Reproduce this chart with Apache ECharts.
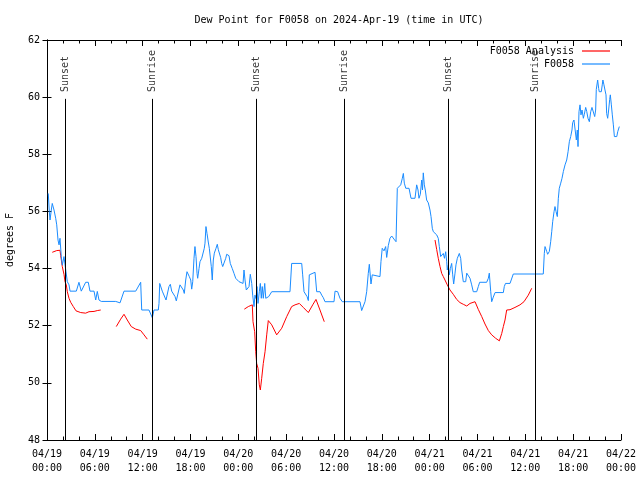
<!DOCTYPE html>
<html>
<head>
<meta charset="utf-8">
<script src="https://cdn.jsdelivr.net/npm/echarts@6/dist/echarts.min.js"></script>
<style>html,body{margin:0;padding:0;background:#fff}#c{width:640px;height:480px}</style>
</head>
<body>
<div id="c"></div>
<script>
// Hours since 2024-04-19 00:00 UTC
const xTickDates = ['04/19','04/19','04/19','04/19','04/20','04/20','04/20','04/20','04/21','04/21','04/21','04/21','04/22'];
const xTickTimes = ['00:00','06:00','12:00','18:00','00:00','06:00','12:00','18:00','00:00','06:00','12:00','18:00','00:00'];

const sunTimes = [2.30, 13.21, 26.26, 37.30, 50.34, 61.25];
const sunLabels = ['Sunset','Sunrise','Sunset','Sunrise','Sunset','Sunrise'];

const obsHours = [0.16,0.29,0.38,0.54,0.66,0.88,1.09,1.22,1.38,1.51,1.63,1.79,1.92,2.13,2.26,2.38,2.55,2.76,2.89,3.68,4.01,4.30,4.55,4.85,5.18,5.39,5.90,6.11,6.31,6.52,6.81,8.62,8.85,9.16,9.66,11.13,11.75,11.88,12.79,13.21,13.42,13.96,14.05,14.14,14.30,14.46,14.71,14.93,15.14,15.30,15.47,15.64,16.06,16.22,16.47,16.68,17.10,17.22,17.40,17.56,17.73,17.85,18.03,18.15,18.28,18.44,18.56,18.69,18.82,18.90,19.07,19.19,19.41,19.61,19.73,19.82,19.94,20.07,20.23,20.36,20.48,20.61,20.73,20.86,20.99,21.20,21.36,21.49,21.79,21.91,22.04,22.24,22.42,22.54,22.83,22.99,23.24,23.46,23.67,23.87,24.09,24.59,24.71,24.84,25.00,25.15,25.34,25.50,25.68,25.80,25.97,26.09,26.22,26.34,26.47,26.63,26.76,26.88,27.00,27.13,27.31,27.44,27.60,27.81,28.19,30.48,30.69,31.95,32.07,32.24,32.43,32.62,32.78,32.90,33.08,33.62,33.83,34.24,34.46,34.66,34.87,36.00,36.13,36.46,36.75,37.04,39.26,39.47,39.67,39.89,40.10,40.30,40.43,40.64,40.80,41.05,41.77,41.89,42.05,42.27,42.48,42.61,42.81,43.02,43.24,43.53,43.78,43.94,44.07,44.37,44.57,44.70,44.82,45.00,45.41,45.66,46.16,46.37,46.54,46.66,46.83,47.00,47.10,47.20,47.33,47.45,47.62,47.83,48.04,48.17,48.33,48.46,48.67,48.88,49.08,49.21,49.38,49.55,49.71,49.86,50.01,50.14,50.21,50.34,50.46,50.59,50.76,50.89,51.01,51.18,51.30,51.47,51.59,51.72,51.89,52.02,52.22,52.52,52.65,52.85,53.06,53.27,53.47,53.90,54.10,54.27,55.15,55.36,55.48,55.66,55.78,55.98,56.20,57.24,57.36,57.51,58.08,58.49,62.25,62.38,62.47,62.68,62.80,63.01,63.18,63.31,63.43,63.60,63.72,63.85,64.01,64.14,64.26,64.44,64.60,64.77,64.98,65.19,65.36,65.52,65.69,65.85,65.94,66.10,66.27,66.40,66.52,66.61,66.73,66.86,66.98,67.11,67.28,67.40,67.57,67.70,67.86,68.03,68.20,68.36,68.57,68.70,68.82,68.90,69.07,69.20,69.27,69.53,69.65,69.73,69.86,69.99,70.12,70.20,70.33,70.45,70.58,70.66,70.79,70.91,71.04,71.17,71.34,71.47,71.59,71.72,71.79];
const obsDew = [56.63,55.99,55.70,56.05,56.28,56.05,55.76,55.53,55.00,54.83,55.06,54.42,54.12,54.42,54.35,53.89,53.54,53.43,53.21,53.21,53.52,53.21,53.21,53.52,53.52,53.21,53.21,52.90,53.20,52.90,52.85,52.85,52.80,52.80,53.21,53.21,53.52,52.55,52.55,52.28,52.55,52.55,52.78,53.48,53.54,53.21,53.21,52.90,52.90,53.37,53.45,53.21,53.02,52.87,52.87,53.43,53.25,53.13,53.60,53.89,53.95,53.72,53.60,53.28,53.54,54.36,54.77,54.42,53.83,53.66,54.00,54.24,54.36,54.36,54.71,54.89,55.47,55.23,54.93,54.71,54.71,54.07,53.60,54.30,54.54,54.71,54.85,54.66,54.38,54.18,54.07,54.07,54.36,54.50,54.45,54.18,54.00,53.83,53.66,53.60,53.54,53.48,53.95,53.60,53.25,53.20,53.37,53.80,53.48,53.07,52.67,53.07,52.95,53.37,52.78,53.19,53.48,52.96,53.37,52.96,53.48,52.96,52.98,53.02,53.19,53.19,54.18,54.18,53.78,53.19,53.15,53.02,52.88,53.78,53.84,53.87,53.19,53.19,53.07,52.98,52.84,52.84,53.21,53.19,52.96,52.84,52.84,52.53,52.53,52.84,53.19,53.83,54.15,53.46,53.78,53.72,53.72,54.24,54.71,54.62,54.77,54.39,54.80,55.06,55.14,55.03,54.94,56.81,56.81,56.93,57.16,57.33,56.99,56.81,56.81,56.46,56.46,56.93,56.75,56.46,56.60,57.10,56.75,57.35,56.93,56.75,56.40,56.30,56.05,55.82,55.41,55.29,55.29,55.18,55.06,54.77,54.42,54.36,54.53,54.36,54.59,54.24,53.95,54.12,53.78,54.00,54.18,53.78,53.46,53.84,54.13,54.36,54.42,54.53,54.36,53.95,53.54,53.54,53.84,53.84,53.66,53.43,53.19,53.19,53.37,53.52,53.52,53.66,53.84,53.19,52.84,53.00,53.16,53.16,53.37,53.48,53.48,53.81,53.81,54.53,54.77,54.60,54.50,54.60,54.94,55.29,55.64,55.99,56.17,56.00,55.82,56.46,56.81,56.99,57.16,57.40,57.63,57.80,58.09,58.44,58.62,58.85,59.11,59.20,59.20,58.50,58.85,58.27,59.49,59.73,59.38,59.55,59.26,59.40,59.64,59.50,59.26,59.14,59.49,59.64,59.64,59.32,59.55,60.27,60.60,60.30,60.19,60.19,60.43,60.60,60.43,60.25,60.08,59.43,59.26,59.55,59.92,60.08,59.73,59.38,59.03,58.62,58.56,58.62,58.79,58.79,58.97];

// null marks a gap in the analysis line
const anaHours = [0.66,1.22,1.63,1.72,1.92,2.13,2.26,2.42,2.55,2.76,2.97,3.30,3.64,4.23,4.85,5.27,5.90,6.31,6.74,7.70,8.69,9.24,9.66,10.07,10.57,11.13,11.75,12.17,12.58,18.00,24.75,25.25,25.75,25.84,26.05,26.18,26.30,26.47,26.63,26.76,26.93,27.13,27.35,27.56,27.76,28.19,28.81,29.44,30.07,30.69,31.11,31.65,32.15,32.78,33.33,33.74,34.24,34.78,40.00,48.67,48.88,49.08,49.30,49.51,49.71,49.92,50.21,50.55,50.96,51.39,51.80,52.22,52.65,53.06,53.69,54.10,54.53,54.94,55.36,55.78,56.28,56.74,57.04,57.24,57.45,57.66,58.08,58.70,59.33,59.83,60.37,60.80];
const anaDew = [54.57,54.63,54.64,54.45,54.07,53.80,53.54,53.43,53.19,52.96,52.82,52.67,52.52,52.46,52.44,52.49,52.50,52.53,52.55,null,51.97,52.23,52.40,52.20,51.97,51.88,51.83,51.68,51.53,null,52.58,52.67,52.73,52.14,51.79,51.09,50.68,50.51,49.93,49.75,50.16,50.68,51.09,51.68,52.18,52.03,51.68,51.91,52.32,52.67,52.73,52.78,52.64,52.46,52.73,52.92,52.55,52.14,null,55.00,54.67,54.36,54.07,53.83,53.72,53.60,53.43,53.25,53.10,52.92,52.81,52.75,52.69,52.78,52.84,52.57,52.32,52.06,51.83,51.68,51.56,51.47,51.73,51.97,52.20,52.55,52.56,52.64,52.73,52.84,53.07,53.31];

const sunLineTop = 59.94;
const sunLabelBase = 60.18;

const FONT = '"DejaVu Sans Mono", "Liberation Mono", monospace';
const obsData = obsHours.map((h, i) => [h, obsDew[i]]);
const anaData = anaHours.map((h, i) => [h, anaDew[i] === null ? '-' : anaDew[i]]);

const chart = echarts.init(document.getElementById('c'), null, {renderer: 'canvas'});
const axisBase = {
  type: 'value', min: 0, max: 72, interval: 6,
  axisLine: {show: true, lineStyle: {color: '#000', width: 1}},
  axisTick: {show: true, inside: true, length: 6, lineStyle: {color: '#000'}},
  minorTick: {show: true, splitNumber: 3, length: 3.5, lineStyle: {color: '#000'}},
  splitLine: {show: false}
};
const legendBase = {
  right: 30, align: 'right', orient: 'horizontal', icon: 'rect', itemWidth: 28, itemHeight: 1.2,
  padding: 0, textStyle: {fontFamily: FONT, fontSize: 10, color: '#000', lineHeight: 12, padding: [0, 3, 0, 0]},
  selectedMode: false
};
chart.setOption({
  animation: false,
  backgroundColor: '#fff',
  title: {
    text: 'Dew Point for F0058 on 2024-Apr-19 (time in UTC)',
    left: 334, top: 10, textAlign: 'center',
    textStyle: {fontFamily: FONT, fontSize: 10, fontWeight: 'normal', color: '#000'}
  },
  legend: [
    Object.assign({}, legendBase, {data: ['F0058 Analysis'], top: 45}),
    Object.assign({}, legendBase, {data: ['F0058'], top: 58})
  ],
  grid: {left: 47, right: 19, top: 40, bottom: 40, containLabel: false, outerBoundsMode: 'none'},
  xAxis: [
    Object.assign({}, axisBase, {
      position: 'bottom',
      axisLabel: {
        show: true, margin: 7, color: '#000', fontFamily: FONT, fontSize: 10, lineHeight: 14,
        showMinLabel: true, showMaxLabel: true,
        formatter: v => { const i = Math.round(v / 6); return xTickDates[i] + '\n' + xTickTimes[i]; }
      }
    }),
    Object.assign({}, axisBase, {position: 'top', axisLabel: {show: false}})
  ],
  yAxis: [
    {
      type: 'value', min: 48, max: 62, interval: 2, position: 'left',
      name: 'degrees F', nameLocation: 'middle', nameRotate: 90, nameGap: 32,
      nameTextStyle: {fontFamily: FONT, fontSize: 10, color: '#000'},
      axisLine: {show: true, lineStyle: {color: '#000', width: 1}},
      axisTick: {show: true, inside: true, length: 4.5, lineStyle: {color: '#000'}},
      axisLabel: {margin: 7, color: '#000', fontFamily: FONT, fontSize: 10},
      splitLine: {show: false}
    },
    {
      type: 'value', min: 48, max: 62, interval: 2, position: 'right',
      axisLine: {show: true, lineStyle: {color: '#000', width: 1}},
      axisTick: {show: true, inside: true, length: 4.5, lineStyle: {color: '#000'}},
      axisLabel: {show: false}, splitLine: {show: false}
    }
  ],
  series: [
    {
      name: 'F0058 Analysis', type: 'line', data: anaData, symbol: 'none', connectNulls: false,
      lineStyle: {color: '#ff0000', width: 1}, itemStyle: {color: '#ff0000'}, z: 3,
      markLine: {
        silent: true, symbol: 'none', animation: false,
        lineStyle: {color: '#000', width: 1, type: 'solid'},
        label: {show: false},
        data: sunTimes.map(t => [{coord: [t, 48]}, {coord: [t, sunLineTop]}])
      }
    },
    {
      name: 'F0058', type: 'line', data: obsData, symbol: 'none',
      lineStyle: {color: '#1a8cff', width: 1}, itemStyle: {color: '#1a8cff'}, z: 4
    },
    {
      name: 'sun', type: 'scatter', symbolSize: 0, silent: true,
      data: sunTimes.map((t, i) => ({value: [t, sunLabelBase], name: sunLabels[i]})),
      label: {
        show: true, position: 'inside', rotate: 90, align: 'left', verticalAlign: 'middle',
        formatter: p => p.name, fontFamily: FONT, fontSize: 10, color: '#000'
      }
    }
  ]
});
</script>
</body>
</html>
